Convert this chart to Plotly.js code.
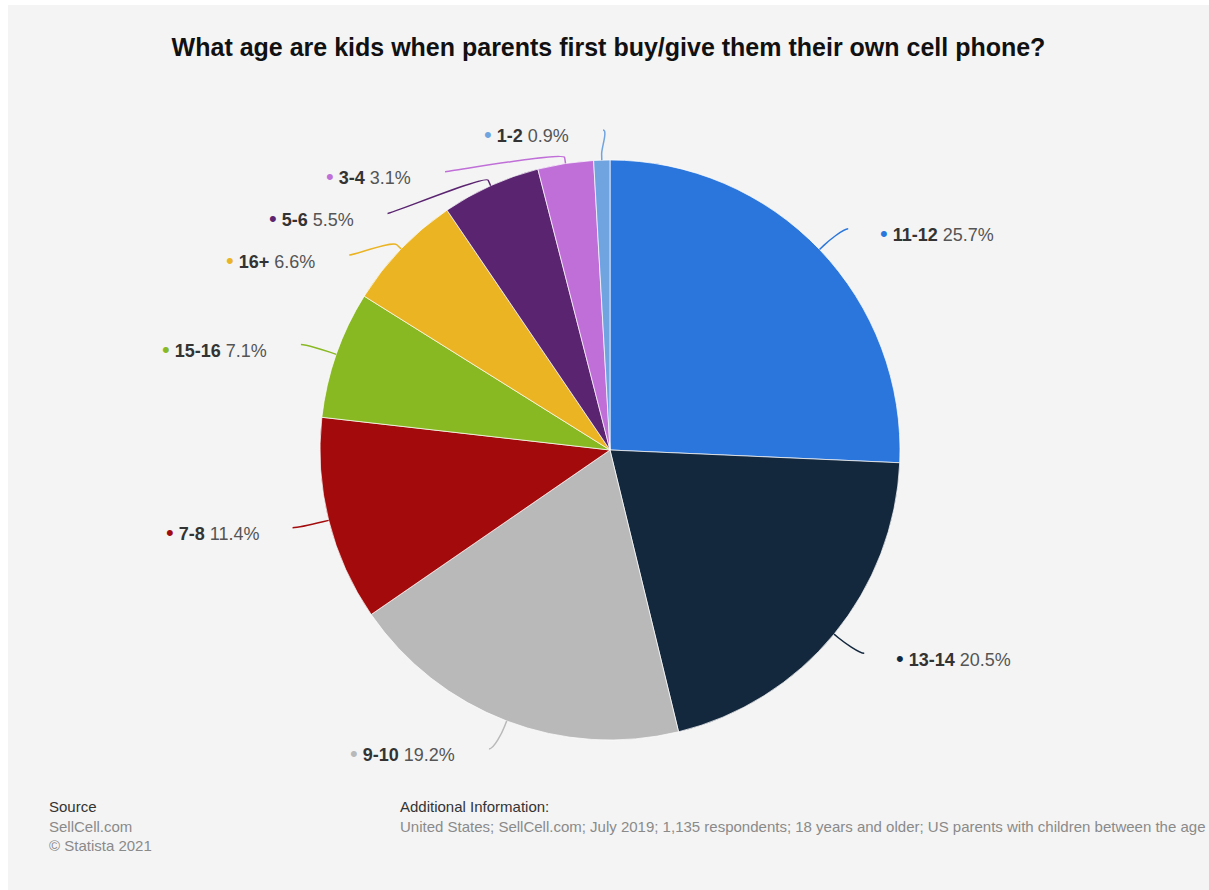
<!DOCTYPE html>
<html>
<head>
<meta charset="utf-8">
<script src="https://cdn.plot.ly/plotly-3.0.1.min.js"></script>
<style>
  html, body { margin: 0; padding: 0; background: #ffffff; width: 1209px; height: 890px; overflow: hidden; }
  #chart { position: absolute; left: 8px; top: 5px; width: 1201px; height: 885px; }
</style>
</head>
<body>
<div id="chart"></div>
<script>
// ---- data ----
const categories = ['11-12', '13-14', '9-10', '7-8', '15-16', '16+', '5-6', '3-4', '1-2'];
const shares = [25.7, 20.5, 19.2, 11.4, 7.1, 6.6, 5.5, 3.1, 0.9];
const sliceColors = ['#2a76dc', '#13273d', '#b9b9b9', '#a30a0b', '#89b922', '#eab423', '#5a2470', '#c06fd8', '#70a4e0'];
const titleText = 'What age are kids when parents first buy/give them their own cell phone?';
const sourceLines = ['SellCell.com', '© Statista 2021'];
const additionalInfo = 'United States; SellCell.com; July 2019; 1,135 respondents; 18 years and older; US parents with children between the age';

// ---- layout constants (pixels inside the chart div) ----
const W = 1201, H = 885;
const CX = 602, CY = 445, R = 290;
const LABEL_DIST = 30, BREAK = 6, PAD = 7, LINE_H = 41.7;
const FONT = '"Liberation Sans", Arial, Helvetica, sans-serif';

const px2x = x => x / W;
const px2y = y => 1 - y / H;

// ---- label geometry derived from the data ----
const total = shares.reduce((a, b) => a + b, 0);
let cum = 0;
const items = shares.map((v, i) => {
  const mid = (cum + v / 2) / total * 2 * Math.PI;
  cum += v;
  const s = Math.sin(mid), c = Math.cos(mid);
  return {
    i, s, c,
    left: s < 0,
    target: CY - c * (R + LABEL_DIST)
  };
});

function distribute(list, minC, maxC, size) {
  list.sort((a, b) => a.target - b.target);
  let groups = list.map(it => ({ members: [it], pos: 0 }));
  const place = g => {
    const mean = g.members.reduce((a, m) => a + m.target, 0) / g.members.length;
    const gs = g.members.length * size;
    let top = mean - gs / 2;
    top = Math.max(top, minC - size / 2);
    top = Math.min(top, maxC + size / 2 - gs);
    g.pos = top;
  };
  let changed = true;
  while (changed) {
    changed = false;
    groups.forEach(place);
    for (let k = 1; k < groups.length; k++) {
      const a = groups[k - 1], b = groups[k];
      if (a.pos + a.members.length * size > b.pos + 0.01) {
        a.members = a.members.concat(b.members);
        groups.splice(k, 1);
        changed = true;
        break;
      }
    }
  }
  groups.forEach(g => g.members.forEach((m, k) => { m.y = g.pos + size / 2 + k * size; }));
}

const minC = CY - (R + LABEL_DIST), maxC = CY + (R + LABEL_DIST);
distribute(items.filter(d => d.left), minC, maxC, LINE_H);
distribute(items.filter(d => !d.left), minC, maxC, LINE_H);

const shapes = [];
const annotations = [];
items.forEach(d => {
  const Rl = R + LABEL_DIST;
  const dy = d.y - CY;
  const w = Math.sqrt(Math.max(Rl * Rl - dy * dy, 0));
  const ex = d.left ? CX - w - PAD : CX + w + PAD;
  const ey = d.y;
  const tx = CX + d.s * R, ty = CY - d.c * R;
  const bx = CX + d.s * (R + BREAK), by = CY - d.c * (R + BREAK);
  const c1x = ex + (d.left ? 5 : -5), c1y = ey;
  const c2x = 2 * bx - tx, c2y = 2 * by - ty;
  const P = (x, y) => px2x(x).toFixed(5) + ',' + px2y(y).toFixed(5);
  shapes.push({
    type: 'path', xref: 'paper', yref: 'paper', layer: 'above',
    path: 'M' + P(ex, ey) + ' C' + P(c1x, c1y) + ' ' + P(c2x, c2y) + ' ' + P(bx, by) + ' L' + P(tx, ty),
    line: { color: sliceColors[d.i], width: 1.5 }
  });
  const txt = '<span style="color:' + sliceColors[d.i] + ';font-size:22px">•</span> ' +
    '<b>' + categories[d.i] + '</b> <span style="color:#555555">' + shares[d.i].toFixed(1) + '%</span>';
  annotations.push({
    xref: 'paper', yref: 'paper',
    x: px2x(d.left ? ex - 32 : ex + 30),
    y: px2y(ey + 5),
    xanchor: d.left ? 'right' : 'left', yanchor: 'middle',
    showarrow: false, text: txt,
    font: { family: FONT, size: 18, color: '#333333' }
  });
});

// footer
const foot = (x, y, text, color) => ({
  xref: 'paper', yref: 'paper', x: px2x(x), y: px2y(y), xanchor: 'left', yanchor: 'middle',
  showarrow: false, text, font: { family: FONT, size: 15, color }
});
annotations.push(foot(39, 801, 'Source', '#333333'));
annotations.push(foot(39, 821, sourceLines[0], '#8a8a8a'));
annotations.push(foot(39, 840, sourceLines[1], '#8a8a8a'));
annotations.push(foot(390, 801, 'Additional Information:', '#333333'));
annotations.push(foot(390, 821, additionalInfo, '#8a8a8a'));

const trace = {
  type: 'pie',
  labels: categories,
  values: shares,
  sort: false,
  direction: 'clockwise',
  rotation: 0,
  marker: { colors: sliceColors, line: { color: 'rgba(255,255,255,0.7)', width: 1 } },
  textinfo: 'none',
  hoverinfo: 'label+percent',
  showlegend: false,
  domain: {
    x: [(CX - R) / W, (CX + R) / W],
    y: [(H - CY - R) / H, (H - CY + R) / H]
  }
};

const layout = {
  width: W, height: H,
  margin: { l: 0, r: 0, t: 0, b: 0 },
  paper_bgcolor: '#f4f4f4',
  plot_bgcolor: '#f4f4f4',
  showlegend: false,
  title: {
    text: '<b>' + titleText + '</b>',
    x: 0.5, xanchor: 'center', xref: 'paper',
    y: 1 - 42 / H, yanchor: 'middle', yref: 'container',
    font: { family: FONT, size: 25, color: '#111111' }
  },
  shapes, annotations
};

Plotly.newPlot('chart', [trace], layout, { displayModeBar: false, staticPlot: true });
</script>
</body>
</html>
